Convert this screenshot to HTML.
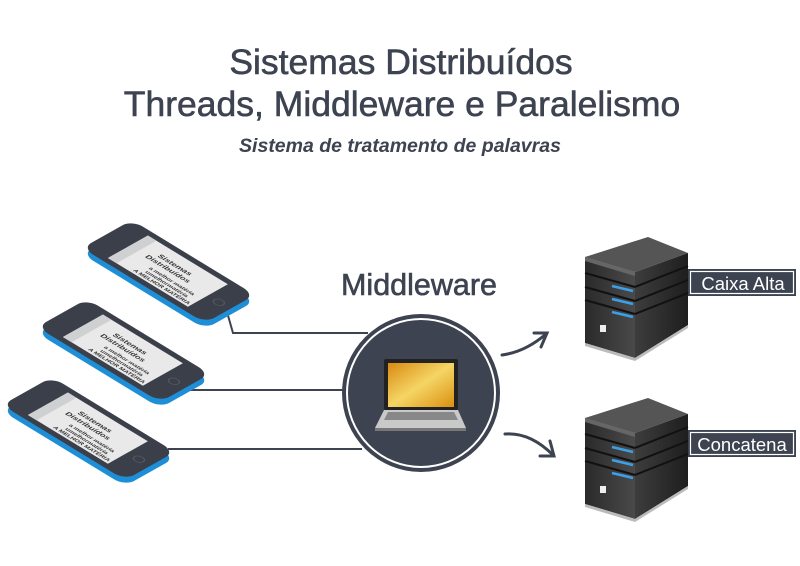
<!DOCTYPE html>
<html><head><meta charset="utf-8"><style>
html,body{margin:0;padding:0;background:#fff;}
svg{display:block}
</style></head><body>
<svg width="800" height="566" viewBox="0 0 800 566" xmlns="http://www.w3.org/2000/svg">
<defs>
<g id="pbody">
  <rect x="0" y="0" width="100" height="50" rx="9" fill="#3a3f4a"/>
  <rect x="17" y="5" width="65" height="40" fill="#e9e9e9"/>
  <rect x="17" y="5" width="7" height="40" fill="#cfd0d2"/>
  <circle cx="91" cy="25" r="3.5" fill="none" stroke="#555a64" stroke-width="0.8"/>
  <text x="48" y="18" font-family="Liberation Sans, sans-serif" font-size="6" font-weight="bold" fill="#333" text-anchor="middle">Sistemas</text>
  <text x="48" y="25" font-family="Liberation Sans, sans-serif" font-size="6" font-weight="bold" fill="#333" text-anchor="middle">Distribuídos</text>
  <text x="58" y="33" font-family="Liberation Sans, sans-serif" font-size="4.5" font-weight="bold" fill="#333" text-anchor="middle">a melhor matéria</text>
  <text x="58" y="38" font-family="Liberation Sans, sans-serif" font-size="4.5" font-weight="bold" fill="#333" text-anchor="middle">umelhormatéria</text>
  <text x="58" y="43" font-family="Liberation Sans, sans-serif" font-size="4.5" font-weight="bold" fill="#333" text-anchor="middle">A MELHOR MATÉRIA</text>
</g>
<g id="phone">
  <g transform="translate(0,6)"><rect x="0" y="0" width="100" height="50" rx="9" fill="#1e8fd6" transform="matrix(1.23,0.75,-1.0,0.56,132,220)"/></g>
  <use href="#pbody" transform="matrix(1.23,0.75,-1.0,0.56,132,220)"/>
</g>
<linearGradient id="scr" x1="0" y1="0" x2="1" y2="1">
  <stop offset="0" stop-color="#d98a10"/><stop offset="0.5" stop-color="#f5d565"/><stop offset="1" stop-color="#d9900f"/>
</linearGradient>
<linearGradient id="front" x1="0" y1="0" x2="1" y2="0">
  <stop offset="0" stop-color="#2a2a2a"/><stop offset="1" stop-color="#4a4a4a"/>
</linearGradient>
<linearGradient id="side" x1="0" y1="0" x2="1" y2="0">
  <stop offset="0" stop-color="#3d3d3d"/><stop offset="1" stop-color="#1e1e1e"/>
</linearGradient>
<g id="server">
  <polygon points="585,257 648,237 688,253 635,272" fill="#555"/>
  <polygon points="585,257 635,272 635,358 585,343" fill="url(#front)"/>
  <polygon points="635,272 688,253 688,325 635,358" fill="url(#side)"/>
  <polygon points="585,257 635,272 635,276 585,261" fill="#666"/>
  <g stroke="#111" stroke-width="2">
    <line x1="585" y1="273" x2="635" y2="287"/><line x1="635" y1="287" x2="688" y2="266"/>
    <line x1="585" y1="287" x2="635" y2="301"/><line x1="635" y1="301" x2="688" y2="280"/>
    <line x1="585" y1="300" x2="635" y2="314"/><line x1="635" y1="314" x2="688" y2="293"/>
  </g>
  <g stroke="#3ba0e8" stroke-width="2.5">
    <line x1="612" y1="286" x2="633" y2="291"/>
    <line x1="612" y1="299" x2="633" y2="304"/>
    <line x1="612" y1="312" x2="633" y2="317"/>
  </g>
  <rect x="600" y="325" width="6" height="7" fill="#eee"/>
  <polygon points="585,343 635,358 688,325 688,328 635,361 585,346" fill="#bbb"/>
</g>
</defs>

<g font-family="Liberation Sans, sans-serif" fill="#3d4350" stroke="#3d4350" stroke-width="0.6" text-anchor="middle">
<text x="401" y="74" font-size="35.5">Sistemas Distribuídos</text>
<text x="402" y="116" font-size="35.5">Threads, Middleware e Paralelismo</text>
</g>
<text x="400" y="152" font-family="Liberation Sans, sans-serif" font-size="19.5" font-style="italic" font-weight="bold" fill="#3d4350" text-anchor="middle">Sistema de tratamento de palavras</text>

<text x="419" y="295" font-family="Liberation Sans, sans-serif" font-size="30.5" fill="#3d4350" stroke="#3d4350" stroke-width="0.6" text-anchor="middle">Middleware</text>

<g stroke="#3d4350" stroke-width="2" fill="none">
  <polyline points="227,312 233,333 368,333"/>
  <line x1="183" y1="390" x2="345" y2="390"/>
  <line x1="168" y1="449" x2="362" y2="449"/>
</g>

<use href="#phone"/>
<use href="#phone" transform="translate(-45,79)"/>
<use href="#phone" transform="translate(-80,157)"/>

<circle cx="421" cy="393" r="79" fill="#3d4350"/>
<circle cx="421" cy="393" r="74" fill="none" stroke="#fff" stroke-width="2"/>
<rect x="384" y="359" width="74" height="51" rx="2" fill="#222"/>
<rect x="388" y="363" width="66" height="44" fill="url(#scr)"/>
<polygon points="384,410 458,410 466,428 375,428" fill="#c9c9c9"/>
<polygon points="388,412 454,412 458,420 384,420" fill="#888"/>
<rect x="375" y="428" width="91" height="3" fill="#777"/>

<g stroke="#3d4350" stroke-width="3" fill="none" stroke-linecap="round">
  <path d="M502,355 Q525,352 546,334"/>
  <path d="M534,333 L547,333 L541,347"/>
  <path d="M505,434 Q530,432 553,455"/>
  <path d="M550,441 L554,456 L540,456"/>
</g>

<use href="#server"/>
<use href="#server" transform="translate(0,161)"/>

<rect x="688" y="269" width="108" height="27" fill="#3d4350"/>
<rect x="690.5" y="271.5" width="103" height="22" fill="none" stroke="#fff" stroke-width="1.2"/>
<text x="743" y="290" font-family="Liberation Sans, sans-serif" font-size="18.5" fill="#fff" text-anchor="middle">Caixa Alta</text>
<rect x="688" y="430" width="108" height="27" fill="#3d4350"/>
<rect x="690.5" y="432.5" width="103" height="22" fill="none" stroke="#fff" stroke-width="1.2"/>
<text x="742" y="451" font-family="Liberation Sans, sans-serif" font-size="18.5" fill="#fff" text-anchor="middle">Concatena</text>
</svg>
</body></html>
